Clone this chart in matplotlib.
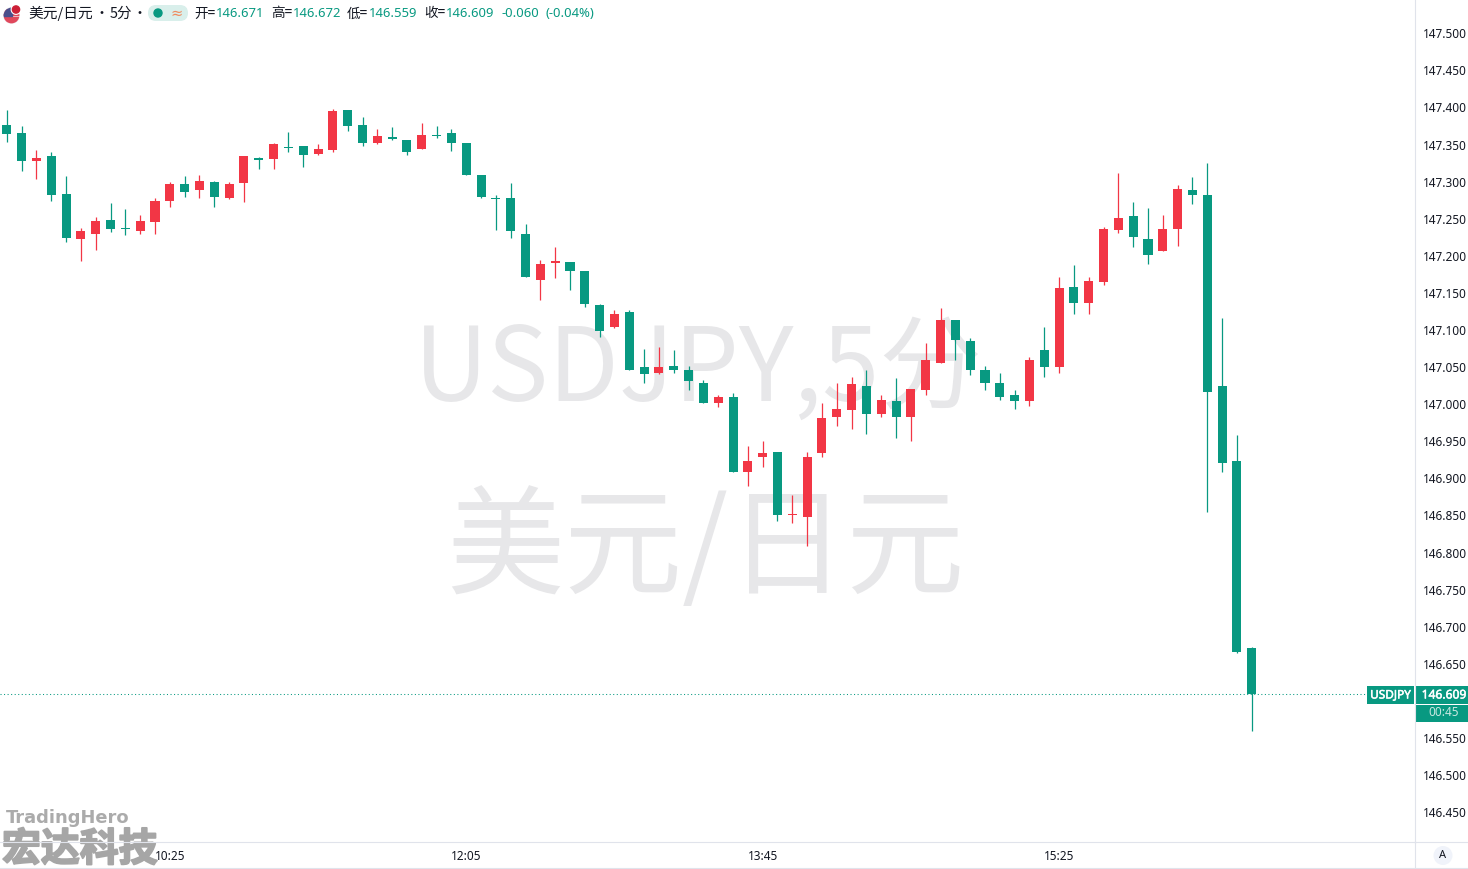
import matplotlib
matplotlib.use("Agg")
import matplotlib.pyplot as plt
import matplotlib.patheffects as pe
from matplotlib.patches import Rectangle, Circle, FancyBboxPatch
from matplotlib.lines import Line2D

CJK = ['Noto Sans CJK SC', 'DejaVu Sans']
plt.rcParams['font.family'] = ['Noto Sans', 'Noto Sans CJK SC', 'DejaVu Sans']

opens = [147.376,147.365,147.328,147.334,147.283,147.222,147.229,147.248,147.237,147.233,
         147.245,147.274,147.297,147.289,147.299,147.278,147.298,147.332,147.330,147.347,
         147.348,147.337,147.343,147.397,147.376,147.352,147.360,147.356,147.344,147.363,
         147.365,147.352,147.309,147.278,147.278,147.230,147.168,147.190,147.191,147.180,
         147.133,147.104,147.124,147.050,147.042,147.051,147.046,147.029,147.002,147.009,
         146.908,146.929,146.935,146.851,146.848,146.934,146.983,146.992,147.025,146.987,
         147.004,146.983,147.019,147.056,147.114,147.085,147.046,147.029,147.012,147.004,
         147.073,147.050,147.158,147.136,147.164,147.235,147.253,147.222,147.206,147.236,
         147.289,147.282,147.024,146.924,146.671]
highs = [147.397,147.375,147.343,147.340,147.307,147.237,147.252,147.271,147.263,147.255,
         147.278,147.299,147.307,147.309,147.301,147.299,147.334,147.333,147.352,147.367,
         147.348,147.351,147.398,147.397,147.387,147.371,147.374,147.356,147.379,147.375,
         147.371,147.352,147.309,147.282,147.298,147.243,147.194,147.212,147.191,147.180,
         147.135,147.127,147.127,147.074,147.077,147.073,147.051,147.032,147.012,147.015,
         146.943,146.950,146.935,146.877,146.935,147.001,147.028,147.036,147.046,147.012,
         147.035,147.020,147.083,147.129,147.114,147.089,147.052,147.042,147.019,147.064,
         147.104,147.171,147.187,147.171,147.239,147.312,147.272,147.264,147.255,147.295,
         147.306,147.325,147.116,146.958,146.672]
lows = [147.353,147.314,147.303,147.274,147.218,147.193,147.208,147.232,147.228,147.230,
        147.229,147.266,147.279,147.278,147.266,147.276,147.272,147.317,147.317,147.340,
        147.320,147.336,147.340,147.368,147.348,147.351,147.356,147.336,147.344,147.359,
        147.341,147.309,147.278,147.235,147.224,147.171,147.140,147.170,147.154,147.131,
        147.090,147.102,147.046,147.029,147.040,147.042,147.019,147.002,146.996,146.909,
        146.890,146.915,146.843,146.840,146.809,146.929,146.971,146.967,146.960,146.983,
        146.954,146.950,147.012,147.056,147.059,147.039,147.019,147.005,146.993,146.998,
        147.036,147.042,147.122,147.122,147.160,147.231,147.212,147.189,147.206,147.213,
        147.270,146.855,146.908,146.665,146.559]
closes = [147.364,147.328,147.332,147.282,147.224,147.233,147.247,147.236,147.236,147.247,
          147.274,147.297,147.286,147.301,147.279,147.297,147.334,147.329,147.351,147.345,
          147.336,147.344,147.395,147.375,147.352,147.361,147.357,147.340,147.363,147.361,
          147.352,147.309,147.279,147.276,147.233,147.171,147.189,147.193,147.179,147.135,
          147.098,147.122,147.046,147.040,147.050,147.046,147.031,147.002,147.010,146.909,
          146.923,146.934,146.851,146.852,146.929,146.982,146.994,147.027,146.987,147.006,
          146.983,147.020,147.060,147.114,147.086,147.046,147.029,147.009,147.004,147.060,
          147.050,147.156,147.137,147.166,147.236,147.251,147.225,147.201,147.236,147.290,
          147.282,147.016,146.921,146.666,146.609]
price_ticks = [147.5,147.45,147.4,147.35,147.3,147.25,147.2,147.15,147.1,147.05,147.0,
               146.95,146.9,146.85,146.8,146.75,146.7,146.65,146.55,146.5,146.45]
time_positions = [11, 31, 51, 71]
time_labels = ['10:25', '12:05', '13:45', '15:25']
last_price = 146.609

GREEN = '#089981'
RED = '#F23645'
W, H = 1468, 869

fig = plt.figure(figsize=(W/100, H/100), dpi=100, facecolor='white')

# pixel overlay, below the chart axes
ov = fig.add_axes([0, 0, 1, 1], zorder=0)
ov.set_xlim(0, W); ov.set_ylim(H, 0); ov.axis('off')

# main chart
ax = fig.add_axes([0, (H-842)/H, 1414.5/W, 842/H], zorder=1)
ax.patch.set_alpha(0)
ax.set_xlim(-0.4586, 94.98)
ax.set_ylim(146.4098, 147.5448)

n = list(range(len(opens)))
cols = [RED if c >= o else GREEN for o, c in zip(opens, closes)]
bottoms = [min(o, c) for o, c in zip(opens, closes)]
heights = [abs(c - o) for o, c in zip(opens, closes)]
ax.vlines(n, lows, highs, colors=cols, linewidth=0.9, zorder=3)
ax.bar(n, heights, bottom=bottoms, width=0.61, color=cols, linewidth=0, zorder=4)
ax.plot([-0.4586, 91.9], [last_price, last_price], color=GREEN, lw=0.75,
        linestyle=(0, (1, 2.4)), zorder=2)

for s in ('top', 'left'):
    ax.spines[s].set_visible(False)
for s in ('right', 'bottom'):
    ax.spines[s].set_color('#e0e3eb')
    ax.spines[s].set_linewidth(0.8)
ax.yaxis.tick_right()
ax.set_yticks(price_ticks, [f'{p:.3f}' for p in price_ticks])
ax.set_xticks(time_positions, time_labels)
ax.tick_params(axis='y', length=0, pad=6.4, labelsize=8.5, labelcolor='#131722')
ax.tick_params(axis='x', length=0, pad=5.6, labelsize=8.5, labelcolor='#131722')

# watermarks
wm = '#E7E7E9'
ov.text(698, 371, 'USDJPY,5分', family=CJK, fontsize=74, color=wm, ha='center', va='center', zorder=1)
ov.text(705, 552, '美元/日元', family=CJK, fontsize=85, color=wm, ha='center', va='center', zorder=1)

# flag icon
ov.add_patch(Circle((11.5, 15.5), 7.8, color='#f2f2f6', zorder=2))
flag = Circle((11.5, 15.5), 7.8, transform=ov.transData)
for yy in (8.5, 11.2, 13.9, 16.6, 19.3, 22.0):
    r = Rectangle((3, yy), 17, 1.3, color='#e0485c', zorder=3)
    ov.add_patch(r); r.set_clip_path(flag)
blue = Rectangle((3, 7), 8.5, 8.5, color='#4a4f8c', zorder=4)
ov.add_patch(blue); blue.set_clip_path(flag)
ov.add_patch(Circle((16, 9.5), 4.7, color='white', zorder=5))
ov.add_patch(Circle((16, 9.5), 3.6, color='#cc1f36', zorder=6))

# header legend
ty = 13.5
ov.text(28, ty, '美元/日元', family=CJK, fontsize=10.6, color='#131722', va='center')
ov.text(102, ty, '•', family=CJK, fontsize=10, color='#131722', ha='center', va='center')
ov.text(110, ty, '5分', family=CJK, fontsize=10.4, color='#131722', va='center')
ov.text(139, ty, '•', family=CJK, fontsize=10, color='#131722', ha='center', va='center')
ov.add_patch(FancyBboxPatch((148, 5), 40, 16, boxstyle='round,pad=0,rounding_size=8',
                            fc='#d9efeb', ec='none', zorder=2))
ov.add_patch(Circle((158, 13), 4, color=GREEN, zorder=3))
ov.text(177, 13, '≈', family=['DejaVu Sans'], fontsize=10.5, color='#f08a5d',
        ha='center', va='center', zorder=3)
for x, lab in [(194, '开='), (271, '高='), (347, '低='), (424, '收=')]:
    ov.text(x, ty, lab, family=CJK, fontsize=9.8, color='#131722', va='center')
for x, val in [(216, '146.671'), (293, '146.672'), (369, '146.559'), (446, '146.609'),
               (501, '-0.060'), (545, '(-0.04%)')]:
    ov.text(x, ty, val, fontsize=9.4, color=GREEN, va='center')

# price labels
thick = [pe.withStroke(linewidth=0.35, foreground='white')]
ov.add_patch(Rectangle((1367, 686), 47, 18, fc=GREEN, ec='none', zorder=2))
ov.add_patch(Rectangle((1415, 686), 53, 18, fc=GREEN, ec='none', zorder=2))
ov.add_patch(Rectangle((1415, 704.6), 53, 17.4, fc=GREEN, ec='none', zorder=2))
ov.text(1390.5, 695, 'USDJPY', fontsize=8.5, color='white', ha='center', va='center',
        zorder=3, path_effects=thick)
ov.text(1444, 695, f'{last_price:.3f}', fontsize=8.7, color='white', ha='center', va='center',
        zorder=3, path_effects=thick)
ov.text(1444, 713, '00:45', fontsize=8.5, color='#c9e8e1', ha='center', va='center', zorder=3)

# logo
ov.text(6, 818, 'TradingHero', family=['DejaVu Sans'], weight='bold', fontsize=12.9,
        color='#ababab', va='center', zorder=2)
ov.text(2, 849.5, '宏达科技', family=CJK, weight='bold', fontsize=28, color='#a6a6a6', va='center',
        zorder=2, path_effects=[pe.withStroke(linewidth=1.4, foreground='#a6a6a6')])

# bottom rules and auto button
ov.add_artist(Line2D([0, W], [868, 868], color='#e0e3eb', lw=0.8))
ov.add_artist(Line2D([1414.5, 1414.5], [842, 868], color='#e0e3eb', lw=0.8))
ov.add_artist(Line2D([1414.5, W], [842, 842], color='#e0e3eb', lw=0.8))
ov.add_patch(Circle((1443, 855.5), 9.5, fc='#f0f3fa', ec='none', zorder=2))
ov.text(1443, 855.5, 'A', fontsize=8, color='#131722', ha='center', va='center', zorder=3)

fig.savefig('out.png', dpi=100, facecolor='white')
